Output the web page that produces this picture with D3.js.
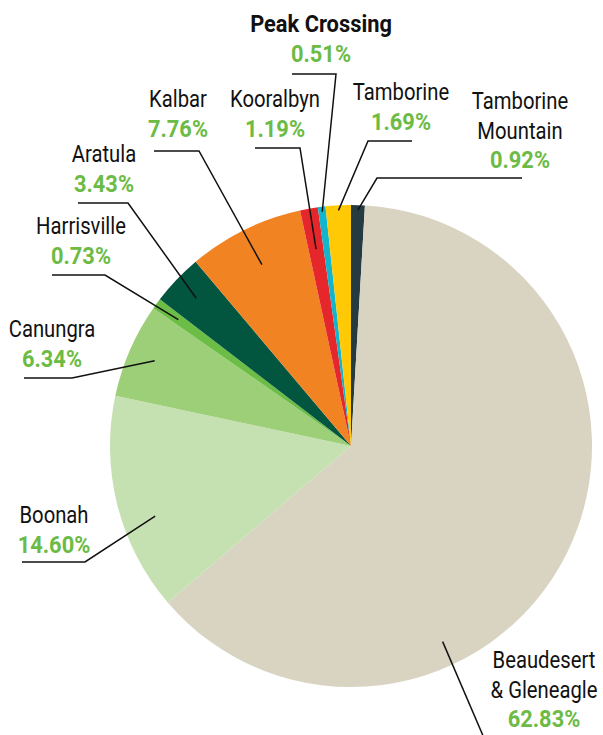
<!DOCTYPE html>
<html lang="en">
<head>
<meta charset="UTF-8">
<title>Pie chart - share by locality</title>
<script src="https://cdn.jsdelivr.net/npm/d3@7"></script>
<style>
  body { margin: 0; background: #fff; }
  text { font-family: Roboto, "Liberation Sans", sans-serif; }
</style>
</head>
<body>
<div id="chart"></div>

<script>
// Localities, clockwise from 12 o'clock
const places = ["Tamborine Mountain", "Beaudesert & Gleneagle", "Boonah", "Canungra", "Harrisville",
                "Aratula", "Kalbar", "Kooralbyn", "Peak Crossing", "Tamborine"];
const shares = [0.92, 62.83, 14.60, 6.34, 0.73, 3.43, 7.76, 1.19, 0.51, 1.69];
const sliceColors = ["#263a42", "#d9d3c1", "#c5e1b1", "#9ccf78", "#6bbd45",
                     "#02553f", "#f28322", "#e5262b", "#12b5cb", "#ffca05"];

// label layout: name lines, centre x, first baseline, leader bend points, leader end (radius, angle override)
const labelLayout = [
    {lines: ["Tamborine", "Mountain"], x: 520, y: 109, pts: [[522,178],[377,178]], r: 236},
    {lines: ["Beaudesert", "& Gleneagle"], x: 544, y: 668, pts: [[487,745]], r: 216, ang: 154.9},
    {lines: ["Boonah"], x: 54, y: 523, pts: [[22,562],[85,562]], r: 208, ang: 250.3},
    {lines: ["Canungra"], x: 52, y: 337, pts: [[24,378],[72,378]], r: 214},
    {lines: ["Harrisville"], x: 81, y: 234, pts: [[52,275],[105,275]], r: 214},
    {lines: ["Aratula"], x: 104, y: 162, pts: [[78,203],[128,203]], r: 214},
    {lines: ["Kalbar"], x: 178, y: 107, pts: [[154,151],[199,151]], r: 202},
    {lines: ["Kooralbyn"], x: 275, y: 107, pts: [[255,148],[300,148]], r: 200},
    {lines: ["Peak Crossing"], x: 321, y: 32, pts: [[292,74],[336,74]], r: 236, bold: true},
    {lines: ["Tamborine"], x: 401, y: 100, pts: [[412,141],[368,141]], r: 236}
];

const W = 603, H = 735;
const cx = 351, cy = 446, R = 241;
const lineGap = 29.5;
// narrow the font so it looks condensed
const squeezeReg = 0.88, squeezeBold = 0.95;

const svg = d3.select("#chart").append("svg")
    .attr("width", W).attr("height", H);

const data = places.map((p, i) => ({place: p, share: shares[i], color: sliceColors[i], lab: labelLayout[i]}));

const pie = d3.pie().sort(null).value(d => d.share);
const arc = d3.arc().innerRadius(0).outerRadius(R);
const arcs = pie(data);

const g = svg.append("g").attr("transform", `translate(${cx},${cy})`);

g.selectAll("path.slice")
    .data(arcs)
    .join("path")
    .attr("class", "slice")
    .attr("d", arc)
    .attr("fill", d => d.data.color);

// leader lines
const line = d3.line();
svg.selectAll("path.leader")
    .data(arcs)
    .join("path")
    .attr("class", "leader")
    .attr("fill", "none")
    .attr("stroke", "#111")
    .attr("stroke-width", 1.5)
    .attr("d", d => {
        const lab = d.data.lab;
        const a = lab.ang !== undefined ? lab.ang * Math.PI / 180 : (d.startAngle + d.endAngle) / 2;
        const end = [cx + lab.r * Math.sin(a), cy - lab.r * Math.cos(a)];
        return line(lab.pts.concat([end]));
    });

// labels
function addText(d, t, y, bold, color) {
    svg.append("text")
        .attr("transform", `translate(${d.lab.x},${y}) scale(${bold ? squeezeBold : squeezeReg},1)`)
        .attr("text-anchor", "middle")
        .attr("font-size", 23)
        .attr("font-weight", bold ? 700 : 400)
        .attr("fill", color)
        .text(t);
}

data.forEach(d => {
    d.lab.lines.forEach((t, k) => addText(d, t, d.lab.y + k * lineGap, !!d.lab.bold, "#111"));
    addText(d, d3.format(".2f")(d.share) + "%", d.lab.y + d.lab.lines.length * lineGap, true, "#6cbb45");
});
</script>
</body>
</html>
